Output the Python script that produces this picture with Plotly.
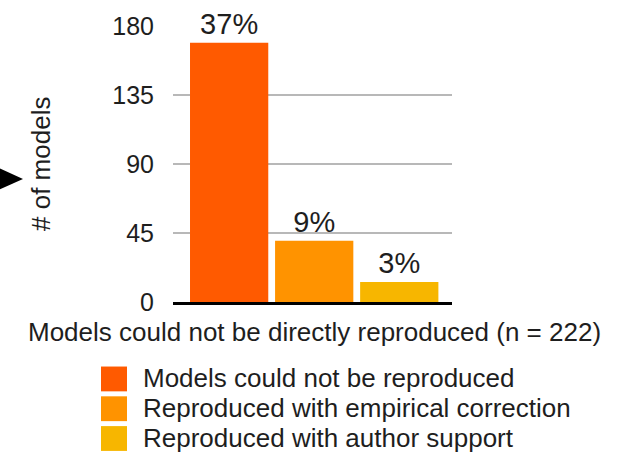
import plotly.graph_objects as go

# Data
categories = ["Models could not be reproduced",
              "Reproduced with empirical correction",
              "Reproduced with author support"]
counts = [169, 40, 13]
percent_labels = ["37%", "9%", "3%"]
colors = ["#FF5A00", "#FF9300", "#F7B600"]
y_ticks = [0, 45, 90, 135, 180]

W, H = 629, 452
L, R, T, B = 173, 177, 24, 150
pw, ph = W - L - R, H - T - B


def px_x(p):
    return (p - L) / pw


def px_y(p):
    return (H - B - p) / ph


FONT = "Liberation Sans, Arial, Helvetica, sans-serif"
TXT = "#1e1e1e"

fig = go.Figure()
fig.add_trace(go.Bar(
    x=list(range(len(categories))),
    y=counts,
    marker=dict(color=colors, line=dict(width=0)),
    text=percent_labels,
    textposition="outside",
    textfont=dict(size=29, color=TXT, family=FONT),
    cliponaxis=False,
    showlegend=False,
    width=0.92,
))

shapes = []
annotations = []

# legend swatches and labels
for i, (name, col) in enumerate(zip(categories, colors)):
    top = 367 + 30 * i
    shapes.append(dict(type="rect", xref="paper", yref="paper",
                       x0=px_x(101), x1=px_x(127),
                       y0=px_y(top + 25), y1=px_y(top),
                       fillcolor=col, line=dict(width=0), layer="above"))
    annotations.append(dict(text=name, xref="paper", yref="paper",
                            x=px_x(141), y=px_y(top + 12),
                            xanchor="left", yanchor="middle", showarrow=False,
                            font=dict(size=26, color=TXT, family=FONT)))

# pointer triangle at the left edge
shapes.append(dict(type="path", xref="paper", yref="paper",
                   path=f"M {px_x(-10)},{px_y(163)} L {px_x(23)},{px_y(178)} "
                        f"L {px_x(-10)},{px_y(193)} Z",
                   fillcolor="black", line=dict(width=0), layer="above"))

# axis titles
annotations.append(dict(text="# of models", xref="paper", yref="paper",
                        x=px_x(41), y=px_y(163), textangle=-90,
                        xanchor="center", yanchor="middle", showarrow=False,
                        font=dict(size=26, color=TXT, family=FONT)))
annotations.append(dict(text="Models could not be directly reproduced (n = 222)",
                        xref="paper", yref="paper",
                        x=px_x(314), y=px_y(332),
                        xanchor="center", yanchor="middle", showarrow=False,
                        font=dict(size=26, color=TXT, family=FONT)))

fig.update_layout(
    width=W, height=H,
    margin=dict(l=L, r=R, t=T, b=B, pad=0),
    paper_bgcolor="white", plot_bgcolor="white",
    font=dict(family=FONT, color=TXT),
    shapes=shapes, annotations=annotations,
    xaxis=dict(range=[-0.66, 2.62], showticklabels=False, showgrid=False,
               zeroline=False, showline=True, linecolor="black", linewidth=3,
               ticks=""),
    yaxis=dict(range=[0, 180], tickvals=y_ticks, showgrid=True,
               gridcolor="#B8B8B8", gridwidth=2, zeroline=False,
               showline=False, ticks="", ticklabelstandoff=18,
               tickfont=dict(size=25, color=TXT, family=FONT)),
)

fig.write_html("out.html")
